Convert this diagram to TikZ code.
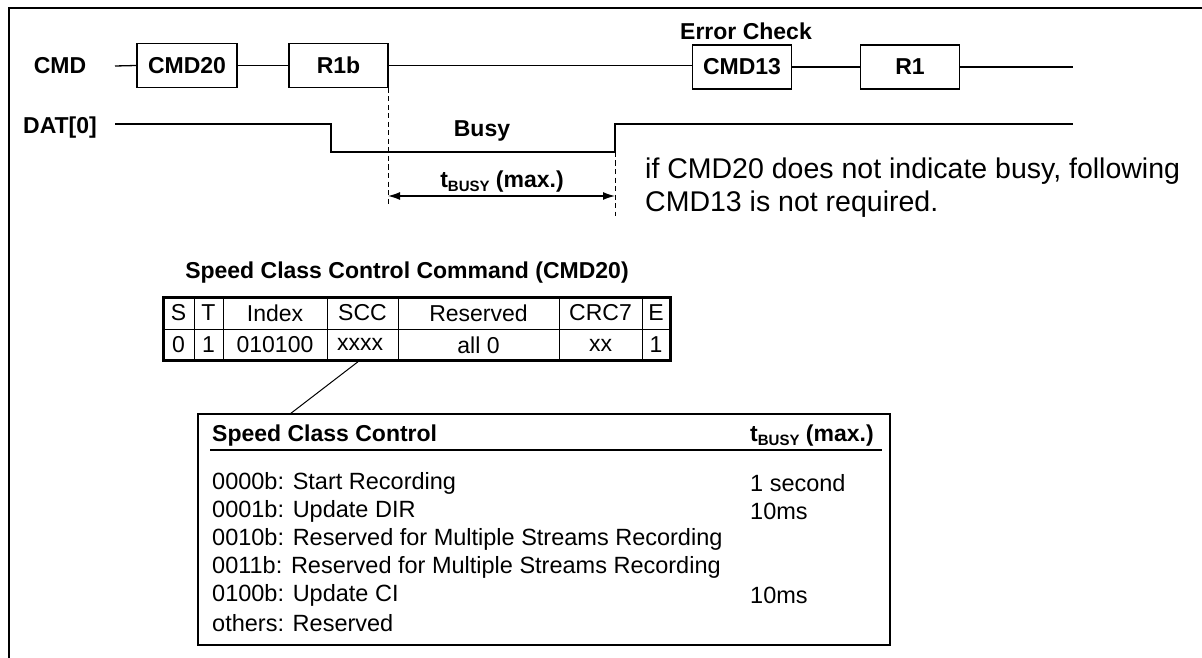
\documentclass[tikz,border=0pt]{standalone}
\usepackage{fontspec}
\setmainfont{Liberation Sans}
\usetikzlibrary{arrows.meta}
\newcommand{\tbusy}{t\raisebox{-0.3ex}{\fontsize{15}{15}\selectfont BUSY}}
\begin{document}
\begin{tikzpicture}[x=1pt,y=-1pt,
  bl/.style={font=\fontsize{23}{27}\selectfont\bfseries, inner sep=0pt},
  sig/.style={draw, line width=1.4pt, minimum width=100pt, minimum height=44pt,
              font=\fontsize{23}{27}\selectfont\bfseries, inner sep=0pt},
  wire/.style={line width=1.3pt},
  guide/.style={line width=1pt, dash pattern=on 5pt off 3.5pt},
  cell/.style={font=\fontsize{23}{27}\selectfont, inner sep=0pt},
  rowtxt/.style={font=\fontsize{23.5}{27}\selectfont, inner sep=0pt, anchor=west},
  hdtxt/.style={font=\fontsize{23}{27}\selectfont\bfseries, inner sep=0pt, anchor=west},
  thin/.style={line width=1pt},
  thick/.style={line width=3pt}]
\useasboundingbox (0,0) rectangle (1202,658);
\fill[white] (0,0) rectangle (1202,658);
% frame
\draw[line width=2pt] (9,658) -- (9,8) -- (1202,8);

% CMD line
\node[bl] (cmdlbl) at (60,66) {CMD};
\coordinate (cmdstart) at (115,66);
\node[sig] (cmd20) at (187,65.5) {CMD20};
\node[sig, minimum width=99pt] (r1b) at (338.5,65.5) {R1b};
\node[sig, minimum width=99pt] (cmd13) at (742,67) {CMD13};
\node[sig, minimum width=99pt] (r1) at (910,67) {R1};
\coordinate (cmdend) at (1073,66);
\node[bl] (errchk) at (746,31) {Error Check};
\draw[wire] (cmdstart) -- (cmd20.west);
\draw[wire] (cmd20.east) -- (r1b.west);
\draw[wire] (r1b.east) -- (r1b.east -| cmd13.west);
\draw[wire] (cmd13.east) -- (cmd13.east -| r1.west);
\draw[wire] (r1.east) -- (r1.east -| cmdend);

% DAT line
\node[bl] (datlbl) at (60,128) {DAT[0]};
\coordinate (d0) at (115,124);
\coordinate (d1) at (331,124);
\coordinate (d2) at (331,152);
\coordinate (d3) at (615,152);
\coordinate (d4) at (615,124);
\coordinate (d5) at (1073,124);
\draw[wire] (d0) -- (d1) -- (d2) -- (d3) -- (d4) -- (d5);
\node[bl] (busy) at (482,131) {Busy};

% guides and busy time
\coordinate (g1a) at (388,88);
\coordinate (g1b) at (388,205);
\coordinate (g2a) at (615,152);
\coordinate (g2b) at (615,216);
\draw[guide] (g1a) -- (g1b);
\draw[guide] (g2a) -- (g2b);
\coordinate (a1) at (388,196);
\coordinate (a2) at (615,196);
\draw[line width=1.3pt, {Latex[length=12pt,width=8pt]}-{Latex[length=12pt,width=8pt]}] (a1) -- (a2);
\node[bl] (tbl) at (502,182) {\tbusy{} (max.)};

% note
\node[font=\fontsize{28.5}{33}\selectfont, align=left, anchor=west, inner sep=0pt] (note) at (645,188)
  {if CMD20 does not indicate busy, following\\CMD13 is not required.};

% command table
\node[bl] (ttitle) at (407,273) {Speed Class Control Command (CMD20)};
\foreach \x in {194,223,327,398,559,642} {\draw[thin] (\x,297) -- (\x,360);}
\draw[thin] (163,329) -- (670,329);
\draw[thick] (163,297) rectangle (670,360);
\node[cell] (hS) at (178.5,313) {S};
\node[cell] (hT) at (208.5,313) {T};
\node[cell] (hI) at (275,313) {Index};
\node[cell] (hC) at (362.5,313) {SCC};
\node[cell] (hR) at (478.5,313) {Reserved};
\node[cell] (hK) at (600.5,313) {CRC7};
\node[cell] (hE) at (656,313) {E};
\node[cell] (vS) at (178.5,345) {0};
\node[cell] (vT) at (208.5,345) {1};
\node[cell] (vI) at (275,345) {010100};
\node[cell, minimum width=71pt, minimum height=31pt] (vC) at (360,344.5) {xxxx};
\node[cell] (vR) at (478.5,345) {all 0};
\node[cell] (vK) at (600.5,345) {xx};
\node[cell] (vE) at (656,345) {1};

% speed class control box
\node[draw, line width=1.4pt, minimum width=692pt, minimum height=231pt, inner sep=0pt] (scbox) at (544,529.5) {};
\coordinate (boxtop) at (290,414);
\draw[thin] (vC.south) -- (boxtop);
\node[hdtxt] (hd1) at (212,436) {Speed Class Control};
\node[hdtxt] (hd2) at (750,436) {\tbusy{} (max.)};
\draw[line width=1.3pt] (210,450) -- (882,450);
\node[rowtxt] (r1t) at (212,483) {0000b: Start Recording};
\node[rowtxt] (r2t) at (212,511) {0001b: Update DIR};
\node[rowtxt] (r3t) at (212,539) {0010b: Reserved for Multiple Streams Recording};
\node[rowtxt] (r4t) at (212,567) {0011b: Reserved for Multiple Streams Recording};
\node[rowtxt] (r5t) at (212,595) {0100b: Update CI};
\node[rowtxt] (r6t) at (212,623) {others: Reserved};
\node[rowtxt] (v1t) at (750,483) {1 second};
\node[rowtxt] (v2t) at (750,511) {10ms};
\node[rowtxt] (v5t) at (750,595) {10ms};
\end{tikzpicture}
\end{document}
